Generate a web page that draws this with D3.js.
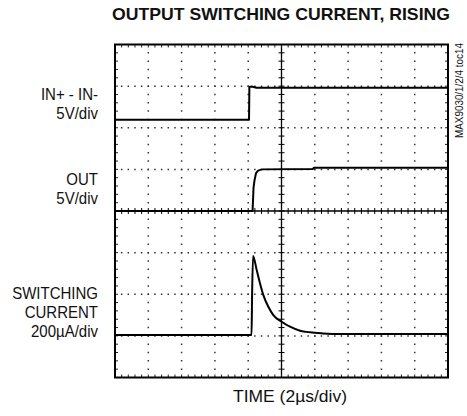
<!DOCTYPE html>
<html>
<head>
<meta charset="utf-8">
<script src="https://cdn.jsdelivr.net/npm/d3@7"></script>
<style>
  body { margin: 0; background: #fff; }
  svg text { font-family: "Liberation Sans Narrow", "Arial Narrow", "Liberation Sans", Arial, sans-serif; fill: #111; }
</style>
</head>
<body>
<div id="chart"></div>
<script>
// scope settings: 10 horizontal divs at 2us/div, 8 vertical divs
var usPerDiv = 2, hDivs = 10, vDivs = 8, subDivs = 5;

// IN+ - IN- trace (5V/div), ground marker in divs from center
var inGround = 2.19, inVoltsPerDiv = 5;
var inTime  = [0, 8.05, 8.07, 8.2, 8.5, 20];
var inVolts = [0, 0, 3.95, 4.0, 3.85, 3.85];

// OUT trace (5V/div)
var outGround = 0, outVoltsPerDiv = 5;
var outTime  = [0, 8.26, 8.29, 8.32, 8.38, 8.47, 8.59, 8.83, 11.89, 11.95, 20];
var outVolts = [0, 0, 1.3, 2.8, 3.7, 4.55, 4.85, 5.0, 5.05, 5.2, 5.2];

// switching current trace (200uA/div)
var curGround = -2.98, curPerDiv = 200;
var curTime   = [0, 8.2, 8.23, 8.29, 8.51, 8.71, 8.91, 9.21, 9.51, 10.01, 10.51, 11.11, 11.71, 12.49, 13.5, 20];
var curMicroA = [0, 0, 170, 380, 312, 248, 192, 136, 96, 64, 40, 21, 13, 8, 5, 5];

// left-hand labels (lines, baseline of first line)
var labels = [
    {lines: ["IN+ - IN-", "5V/div"], y: 100},
    {lines: ["OUT", "5V/div"], y: 185},
    {lines: ["SWITCHING", "CURRENT", "200\u00b5A/div"], y: 299}
];

var width = 467, height = 416;
var plotLeft = 115, plotTop = 44.5, plotW = 333, plotH = 333;

var svg = d3.select("#chart").append("svg")
    .attr("width", width)
    .attr("height", height);

var x = d3.scaleLinear().domain([0, hDivs * usPerDiv]).range([plotLeft, plotLeft + plotW]);
var y = d3.scaleLinear().domain([-vDivs / 2, vDivs / 2]).range([plotTop + plotH, plotTop]);

var hStep = plotW / hDivs / subDivs, vStep = plotH / vDivs / subDivs;

//Grid - dotted lines at every division
var grid = svg.append("g").attr("class", "grid");
d3.range(1, hDivs).filter(function(i) {return i != hDivs / 2}).forEach(function(i) {
    grid.append("line")
        .attr("x1", x(i * usPerDiv)).attr("x2", x(i * usPerDiv))
        .attr("y1", plotTop).attr("y2", plotTop + plotH)
        .attr("stroke", "#333").attr("stroke-width", 1.5)
        .attr("stroke-dasharray", "1.5," + (vStep - 1.5))
        .attr("stroke-dashoffset", 0.75);
});
d3.range(1, vDivs).filter(function(i) {return i != vDivs / 2}).forEach(function(i) {
    var yy = y(i - vDivs / 2);
    grid.append("line")
        .attr("x1", plotLeft).attr("x2", plotLeft + plotW)
        .attr("y1", yy).attr("y2", yy)
        .attr("stroke", "#333").attr("stroke-width", 1.5)
        .attr("stroke-dasharray", "1.5," + (hStep - 1.5))
        .attr("stroke-dashoffset", 0.75);
});

//Center axes with small ticks
var cx = x(hDivs * usPerDiv / 2), cy = y(0);
grid.append("line").attr("x1", cx).attr("x2", cx).attr("y1", plotTop).attr("y2", plotTop + plotH)
    .attr("stroke", "#000").attr("stroke-width", 1.3);
grid.append("line").attr("x1", plotLeft).attr("x2", plotLeft + plotW).attr("y1", cy).attr("y2", cy)
    .attr("stroke", "#000").attr("stroke-width", 1.3);
grid.selectAll("line.vtick")
    .data(d3.range(0, vDivs * subDivs + 1))
    .enter().append("line").attr("class", "vtick")
    .attr("x1", cx - 3).attr("x2", cx + 3)
    .attr("y1", function(d) {return plotTop + d * vStep})
    .attr("y2", function(d) {return plotTop + d * vStep})
    .attr("stroke", "#000").attr("stroke-width", 1);
grid.selectAll("line.htick")
    .data(d3.range(0, hDivs * subDivs + 1))
    .enter().append("line").attr("class", "htick")
    .attr("x1", function(d) {return plotLeft + d * hStep})
    .attr("x2", function(d) {return plotLeft + d * hStep})
    .attr("y1", cy - 3).attr("y2", cy + 3)
    .attr("stroke", "#000").attr("stroke-width", 1);

//Border ticks pointing inwards
var bt = svg.append("g").attr("class", "borderTicks").attr("stroke", "#222").attr("stroke-width", 1);
d3.range(1, hDivs * subDivs).forEach(function(d) {
    var xx = plotLeft + d * hStep;
    bt.append("line").attr("x1", xx).attr("x2", xx).attr("y1", plotTop).attr("y2", plotTop + 3);
    bt.append("line").attr("x1", xx).attr("x2", xx).attr("y1", plotTop + plotH).attr("y2", plotTop + plotH - 3);
});
d3.range(1, vDivs * subDivs).forEach(function(d) {
    var yy = plotTop + d * vStep;
    bt.append("line").attr("x1", plotLeft).attr("x2", plotLeft + 3).attr("y1", yy).attr("y2", yy);
    bt.append("line").attr("x1", plotLeft + plotW).attr("x2", plotLeft + plotW - 3).attr("y1", yy).attr("y2", yy);
});

//Frame
svg.append("rect")
    .attr("x", plotLeft).attr("y", plotTop)
    .attr("width", plotW).attr("height", plotH)
    .attr("fill", "none").attr("stroke", "#000").attr("stroke-width", 2);

//Traces
function trace(times, vals, ground, perDiv, curve) {
    var pts = times.map(function(t, i) {return [t, ground + vals[i] / perDiv]});
    svg.append("path")
        .attr("d", d3.line()
            .x(function(d) {return x(d[0])})
            .y(function(d) {return y(d[1])})
            .curve(curve)(pts))
        .attr("fill", "none").attr("stroke", "#000").attr("stroke-width", 2)
        .attr("stroke-linejoin", "round");
}
trace(inTime, inVolts, inGround, inVoltsPerDiv, d3.curveLinear);
trace(outTime, outVolts, outGround, outVoltsPerDiv, d3.curveLinear);
trace(curTime, curMicroA, curGround, curPerDiv, d3.curveMonotoneX);

//Narrow-looking text: measure at base size, then draw taller and squeeze back
function narrowText(sel, baseSize, bigSize) {
    sel.attr("font-size", baseSize);
    var len = sel.node().getComputedTextLength();
    sel.attr("font-size", bigSize)
        .attr("textLength", len).attr("lengthAdjust", "spacingAndGlyphs");
    return sel;
}

//Title
svg.append("text")
    .attr("x", 281).attr("y", 20)
    .attr("text-anchor", "middle")
    .attr("font-size", 17).attr("font-weight", "bold")
    .attr("textLength", 338).attr("lengthAdjust", "spacingAndGlyphs")
    .text("OUTPUT SWITCHING CURRENT, RISING");

//Left labels
labels.forEach(function(l) {
    l.lines.forEach(function(s, i) {
        var t = svg.append("text")
            .attr("x", 98).attr("y", l.y + i * 19.2)
            .attr("text-anchor", "end")
            .text(s);
        narrowText(t, 15, 16.5);
    });
});

//X label
narrowText(svg.append("text")
    .attr("x", 290).attr("y", 402)
    .attr("text-anchor", "middle")
    .text("TIME (2\u00b5s/div)"), 17.5, 17);

//Side tag
svg.append("text")
    .attr("transform", "translate(463,43) rotate(-90)")
    .attr("text-anchor", "end")
    .attr("font-size", 10.5)
    .attr("textLength", 95).attr("lengthAdjust", "spacingAndGlyphs")
    .text("MAX9030/1/2/4 toc14");
</script>
</body>
</html>
